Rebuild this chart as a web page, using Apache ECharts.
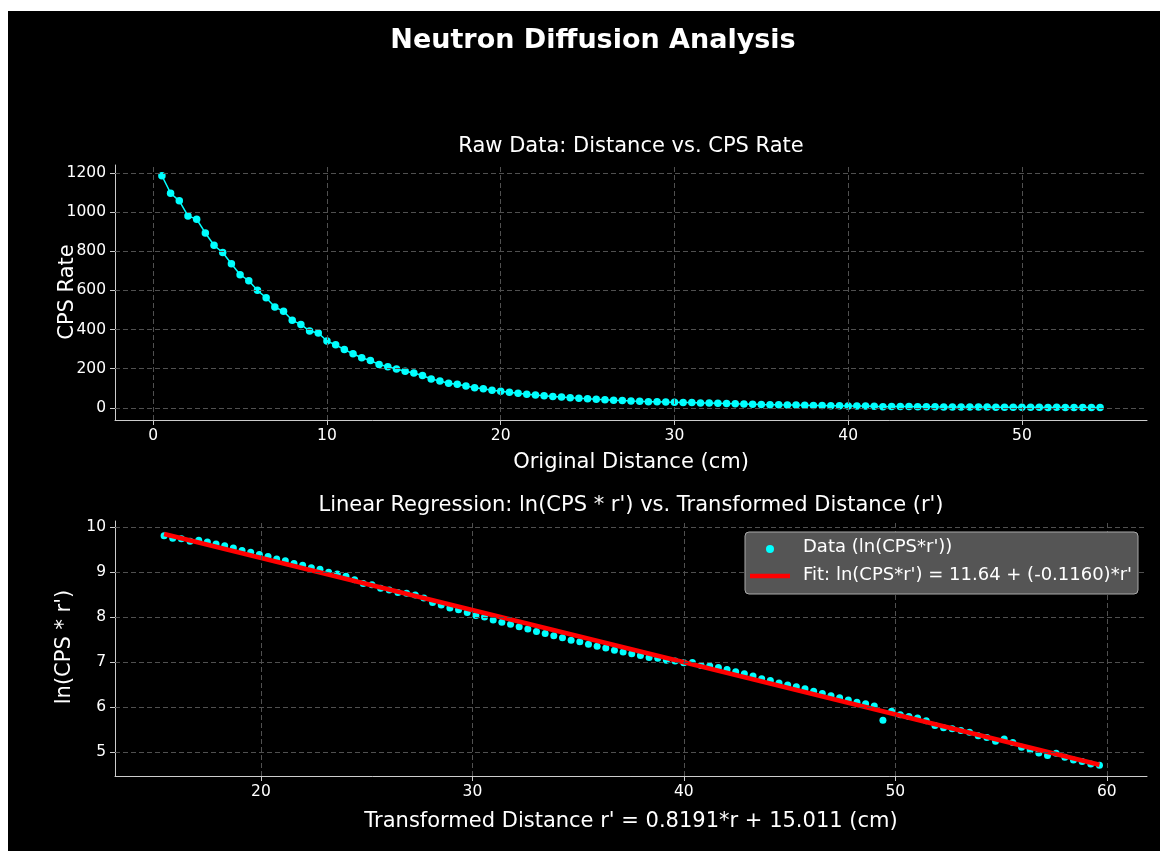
<!DOCTYPE html>
<html>
<head>
<meta charset="utf-8">
<script src="https://cdn.jsdelivr.net/npm/echarts/dist/echarts.min.js"></script>
<style>
html,body{margin:0;padding:0;background:#ffffff;width:1168px;height:852px;overflow:hidden;}
#chart{position:absolute;left:8px;top:11px;width:1152px;height:840px;}
</style>
</head>
<body>
<div id="chart"></div>
<script>
// ---- data ----
const distance = [0.5,1.0,1.5,2.0,2.5,3.0,3.5,4.0,4.5,5.0,5.5,6.0,6.5,7.0,7.5,8.0,8.5,9.0,9.5,10.0,
10.5,11.0,11.5,12.0,12.5,13.0,13.5,14.0,14.5,15.0,15.5,16.0,16.5,17.0,17.5,18.0,18.5,19.0,19.5,20.0,
20.5,21.0,21.5,22.0,22.5,23.0,23.5,24.0,24.5,25.0,25.5,26.0,26.5,27.0,27.5,28.0,28.5,29.0,29.5,30.0,
30.5,31.0,31.5,32.0,32.5,33.0,33.5,34.0,34.5,35.0,35.5,36.0,36.5,37.0,37.5,38.0,38.5,39.0,39.5,40.0,
40.5,41.0,41.5,42.0,42.5,43.0,43.5,44.0,44.5,45.0,45.5,46.0,46.5,47.0,47.5,48.0,48.5,49.0,49.5,50.0,
50.5,51.0,51.5,52.0,52.5,53.0,53.5,54.0,54.5];

const cpsRate = [1185,1096,1057,980,963,893,830,793,736,680,649,600,562,515,493,447,426,392,382,341,
322,298,276,256,242,222,210,198,187,178,165,147,137,126,120,112,103,98,90,85,
80,75,70,66,62,58,55,51.5,49.3,46.0,43.6,41.5,39.0,37.1,35.2,33.5,31.8,30.9,29.3,28.5,
27.0,27.0,25.0,24.5,23.4,22.2,20.9,19.8,18.6,17.4,16.5,15.5,14.8,14.0,13.3,12.4,11.8,11.1,10.5,9.9,
9.4,9.0,8.5,6.1,7.4,6.8,6.5,6.2,5.8,5.2,4.9,4.7,4.5,4.3,4.0,3.8,3.4,3.6,3.3,3.0,
2.8,2.6,2.4,2.5,2.3,2.1,2.0,1.9,1.9];

const transformedDistance = [15.421,15.830,16.240,16.649,17.059,17.468,17.878,18.287,18.697,19.107,
19.516,19.926,20.335,20.745,21.154,21.564,21.973,22.383,22.792,23.202,
23.612,24.021,24.431,24.840,25.250,25.659,26.069,26.478,26.888,27.298,
27.707,28.117,28.526,28.936,29.345,29.755,30.164,30.574,30.983,31.393,
31.803,32.212,32.622,33.031,33.441,33.850,34.260,34.669,35.079,35.489,
35.898,36.308,36.717,37.127,37.536,37.946,38.355,38.765,39.174,39.584,
39.994,40.403,40.813,41.222,41.632,42.041,42.451,42.860,43.270,43.680,
44.089,44.499,44.908,45.318,45.727,46.137,46.546,46.956,47.365,47.775,
48.185,48.594,49.004,49.413,49.823,50.232,50.642,51.051,51.461,51.871,
52.280,52.690,53.099,53.509,53.918,54.328,54.737,55.147,55.556,55.966,
56.376,56.785,57.195,57.604,58.014,58.423,58.833,59.242,59.652];

const lnCpsR = [9.811,9.754,9.746,9.689,9.711,9.674,9.626,9.589,9.541,9.484,
9.446,9.394,9.351,9.294,9.256,9.194,9.156,9.099,9.066,8.999,
8.961,8.909,8.836,8.749,8.721,8.644,8.606,8.549,8.531,8.494,
8.426,8.329,8.271,8.203,8.166,8.108,8.041,8.003,7.936,7.888,
7.846,7.788,7.736,7.683,7.641,7.588,7.546,7.488,7.456,7.398,
7.356,7.318,7.266,7.228,7.186,7.148,7.106,7.088,7.046,7.028,
6.986,6.993,6.926,6.918,6.881,6.838,6.786,6.743,6.691,6.633,
6.591,6.538,6.496,6.453,6.411,6.353,6.306,6.253,6.211,6.158,
6.111,6.078,6.026,5.708,5.911,5.833,5.791,5.758,5.701,5.593,
5.541,5.518,5.481,5.443,5.365,5.328,5.240,5.293,5.215,5.108,
5.055,4.983,4.925,4.978,4.885,4.828,4.790,4.738,4.710];

// fit coefficients (from legend)
const fitIntercept = 11.64;
const fitSlope = -0.1160;

// tick labels
const topXTicks = [0,10,20,30,40,50];
const topYTicks = [0,200,400,600,800,1000,1200];
const botXTicks = [20,30,40,50,60];
const botYTicks = [5,6,7,8,9,10];

// ---- styling ----
const FONT = "'DejaVu Sans', sans-serif";
const TXT = '#ffffff';
const AXC = '#cccccc';
const GRIDC = '#505050';

const chart = echarts.init(document.getElementById('chart'), null, {renderer:'canvas'});

function makeAxis(gridIndex, min, max, ticks, isX) {
  return {
    type: 'value', gridIndex, min, max,
    axisLine: {show: true, onZero: false, lineStyle: {color: AXC, width: 1}},
    axisTick: {show: true, customValues: ticks, length: 5, lineStyle: {color: AXC, width: 1}},
    axisLabel: {show: true, customValues: ticks, color: TXT, fontFamily: FONT, fontSize: 15.5,
      margin: isX ? 8 : 9, formatter: v => String(v)},
    splitLine: {show: false}
  };
}

function gridSeries(xi, yi, xt, yt) {
  return {
    type: 'line', xAxisIndex: xi, yAxisIndex: yi, data: [], z: 0, silent: true,
    markLine: {
      silent: true, symbol: ['none','none'], animation: false,
      label: {show: false},
      lineStyle: {type: [5,3], color: GRIDC, width: 1},
      data: xt.map(v => ({xAxis: v})).concat(yt.map(v => ({yAxis: v})))
    }
  };
}

const rawData = distance.map((d, i) => [d, cpsRate[i]]);
const transData = transformedDistance.map((d, i) => [d, lnCpsR[i]]);
const xFirst = transformedDistance[0], xLast = transformedDistance[transformedDistance.length - 1];
const fitData = [[xFirst, fitIntercept + fitSlope * xFirst], [xLast, fitIntercept + fitSlope * xLast]];

function txt(text, x, y, size, opts) {
  opts = opts || {};
  return {
    type: 'text', x: x, y: y, rotation: opts.rot || 0, z: 100,
    style: {
      text: text, fill: opts.fill || TXT,
      font: (opts.bold ? 'bold ' : '') + size + 'px ' + FONT,
      textAlign: opts.align || 'center', align: opts.align || 'center',
      textVerticalAlign: 'middle', verticalAlign: 'middle'
    }
  };
}

const option = {
  backgroundColor: '#000000',
  animation: false,
  grid: [
    {left: 107, top: 154, width: 1032, height: 255},
    {left: 107, top: 510, width: 1032, height: 255}
  ],
  xAxis: [
    makeAxis(0, -2.2, 57.2, topXTicks, true),
    makeAxis(1, 13.1, 61.9, botXTicks, true)
  ],
  yAxis: [
    makeAxis(0, -62, 1240, topYTicks, false),
    makeAxis(1, 4.47, 10.14, botYTicks, false)
  ],
  series: [
    gridSeries(0, 0, topXTicks, topYTicks),
    gridSeries(1, 1, botXTicks, botYTicks),
    {
      type: 'line', xAxisIndex: 0, yAxisIndex: 0, data: rawData, z: 3,
      symbol: 'circle', symbolSize: 7.5, showSymbol: true,
      lineStyle: {color: '#00ffff', width: 1.5},
      itemStyle: {color: '#00ffff'}
    },
    {
      type: 'scatter', xAxisIndex: 1, yAxisIndex: 1, data: transData, z: 3,
      symbol: 'circle', symbolSize: 7,
      itemStyle: {color: '#00ffff', opacity: 1}
    },
    {
      type: 'line', xAxisIndex: 1, yAxisIndex: 1, data: fitData, z: 4,
      symbol: 'none', lineStyle: {color: '#ff0000', width: 4.5}
    }
  ],
  graphic: {elements: [
    txt('Neutron Diffusion Analysis', 585, 30, 27, {bold: true}),
    txt('Raw Data: Distance vs. CPS Rate', 623, 136, 21),
    txt('Original Distance (cm)', 623, 452, 21),
    txt('CPS Rate', 60, 281, 21, {rot: Math.PI / 2}),
    txt("Linear Regression: ln(CPS * r') vs. Transformed Distance (r')", 623, 495, 21),
    txt("Transformed Distance r' = 0.8191*r + 15.011 (cm)", 623, 811, 21),
    txt("ln(CPS * r')", 57, 636, 21, {rot: Math.PI / 2}),
    {type: 'rect', z: 90, shape: {x: 737, y: 521, width: 393, height: 62, r: 4},
     style: {fill: '#555555', stroke: '#aaaaaa', lineWidth: 1}},
    {type: 'circle', z: 95, shape: {cx: 762, cy: 538, r: 4}, style: {fill: '#00ffff'}},
    {type: 'line', z: 95, shape: {x1: 742, y1: 565, x2: 782, y2: 565}, style: {stroke: '#ff0000', lineWidth: 4.5}},
    txt("Data (ln(CPS*r'))", 795, 536, 18, {align: 'left'}),
    txt("Fit: ln(CPS*r') = 11.64 + (-0.1160)*r'", 795, 564, 18, {align: 'left'})
  ]}
};
chart.setOption(option);
</script>
</body>
</html>
